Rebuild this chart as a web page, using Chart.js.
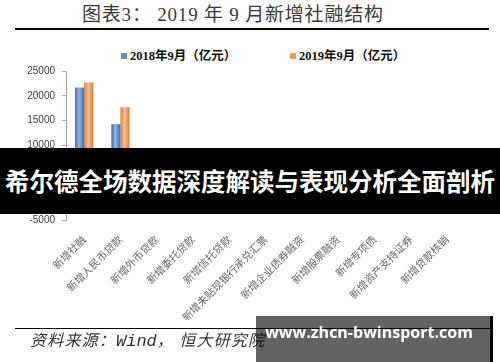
<!DOCTYPE html>
<html><head><meta charset="utf-8">
<script src="https://cdn.jsdelivr.net/npm/chart.js@4/dist/chart.umd.min.js"></script>
<style>
html,body{margin:0;padding:0;background:#fff;}
body{width:500px;height:362px;position:relative;overflow:hidden;font-family:"Noto Sans CJK SC",sans-serif;}
.abs{position:absolute;white-space:nowrap;}
#c{position:absolute;left:0;top:0;width:500px;height:362px;}
.lg{position:absolute;top:49px;font-family:"Liberation Serif","Noto Sans CJK SC",serif;font-weight:bold;font-size:12.5px;line-height:14px;color:#111;}
.lg i{display:inline-block;width:6px;height:6px;margin-right:3px;vertical-align:1px;}
</style></head><body>
<div class="abs" style="left:82px;top:3px;font-size:19px;letter-spacing:0.8px;line-height:24px;color:#3a3a3a;font-family:'Liberation Serif','Noto Sans CJK SC',serif;">图表3： 2019 年 9 月新增社融结构</div>
<div class="abs" style="left:15px;top:27.5px;width:474px;height:2.5px;background:#000"></div>
<div class="lg" style="left:121px;"><i style="background:#5b8fd0"></i><span id="lg0"></span></div>
<div class="lg" style="left:290px;"><i style="background:#f79a55"></i><span id="lg1"></span></div>
<canvas id="c" width="500" height="362"></canvas>
<div class="abs" style="left:15px;top:327.5px;width:476px;height:1.6px;background:#000"></div>
<div class="abs" style="left:30px;top:330px;font-size:16px;letter-spacing:1.2px;line-height:22px;color:#333;font-style:italic;font-family:'Liberation Serif','Noto Sans CJK SC',serif;">资料来源：<span style="font-family:'Liberation Mono',monospace;font-size:17px;letter-spacing:0">Wind</span>， 恒大研究院</div>

<div class="abs" style="left:0;top:148px;width:500px;height:66px;background:#000"></div>
<div class="abs" style="left:10px;top:148px;width:479px;height:66px;background:rgba(0,0,0,0.61)"></div>
<div class="abs" style="left:0;top:148px;width:500px;height:66px;line-height:66px;text-align:center;color:#fff;font-weight:bold;font-size:24.5px;font-family:'Noto Sans CJK SC',sans-serif;">希尔德全场数据深度解读与表现分析全面剖析</div>

<div class="abs" style="left:256px;top:316px;width:234px;height:46px;background:rgba(0,0,0,0.61)"></div>
<div class="abs" style="left:490px;top:316px;width:3px;height:46px;background:#000"></div>
<div class="abs" style="left:248px;top:320px;width:242px;line-height:24px;text-align:center;color:#fff;font-weight:bold;font-size:16px;font-family:'Open Sans',sans-serif;">www.zhcn-bwinsport.com</div>

<script>
const categories = ['新增社融','新增人民币贷款','新增外币贷款','新增委托贷款','新增信托贷款','新增未贴现银行承兑汇票','新增企业债券融资','新增股票融资','新增专项债','新增资产支持证券','新增贷款核销'];
const sept2018 = [21700, 14300, -870, -1260, -1020, -1030, 1150, 220, 7390, 1000, 800];
const sept2019 = [22700, 17700, -640, -880, -720, -1130, 1620, 150, 2600, 900, 1000];
const seriesNames = ['2018年9月（亿元）', '2019年9月（亿元）'];
const yTicks = [-5000, 0, 5000, 10000, 15000, 20000, 25000];

document.getElementById('lg0').textContent = seriesNames[0];
document.getElementById('lg1').textContent = seriesNames[1];

function barGradient(ctx, dsIndex, dark, light) {
  const chart = ctx.chart;
  const xs = chart.scales.x;
  const area = chart.chartArea;
  if (!xs || !area || ctx.dataIndex === undefined) return dark;
  const catW = (area.right - area.left) / categories.length;
  const bw = catW * 0.25;
  const cx = xs.getPixelForValue(ctx.dataIndex);
  const left = dsIndex === 0 ? cx - bw : cx;
  const g = chart.ctx.createLinearGradient(left, 0, left + bw, 0);
  g.addColorStop(0, dark);
  g.addColorStop(0.45, light);
  g.addColorStop(1, dark);
  return g;
}

new Chart(document.getElementById('c'), {
  type: 'bar',
  data: {
    labels: categories,
    datasets: [
      { label: seriesNames[0], data: sept2018,
        backgroundColor: (c) => barGradient(c, 0, '#3b6db0', '#8fb4e3'),
        borderWidth: 0, categoryPercentage: 0.5, barPercentage: 1.0 },
      { label: seriesNames[1], data: sept2019,
        backgroundColor: (c) => barGradient(c, 1, '#e8782a', '#fbc196'),
        borderWidth: 0, categoryPercentage: 0.5, barPercentage: 1.0 }
    ]
  },
  options: {
    responsive: false,
    animation: false,
    layout: { padding: { left: 0, right: 35, top: 71, bottom: 42 } },
    plugins: { legend: { display: false }, tooltip: { enabled: false }, title: { display: false } },
    scales: {
      x: {
        grid: { display: false },
        border: { display: false },
        ticks: { autoSkip: false, maxRotation: 45, minRotation: 45, padding: 5, color: '#666',
                 font: { size: 10.5, family: "'Noto Sans CJK SC', sans-serif" } },
        afterFit: (s) => { s.height = 100; }
      },
      y: {
        min: -5000, max: 25000,
        afterBuildTicks: (s) => { s.ticks = yTicks.map(v => ({ value: v })); },
        ticks: { padding: 7, color: '#404040', font: { size: 10, family: "'Liberation Sans', sans-serif" },
                 callback: (v) => String(v) },
        grid: { drawOnChartArea: true,
                color: (c) => (c.tick && c.tick.value === 0) ? '#bfbfbf' : 'rgba(0,0,0,0)',
                tickColor: '#a6a6a6', tickLength: 4, lineWidth: 1 },
        border: { display: true, color: '#a6a6a6' },
        afterFit: (s) => { s.width = 66; }
      }
    }
  }
});
</script>
</body></html>
